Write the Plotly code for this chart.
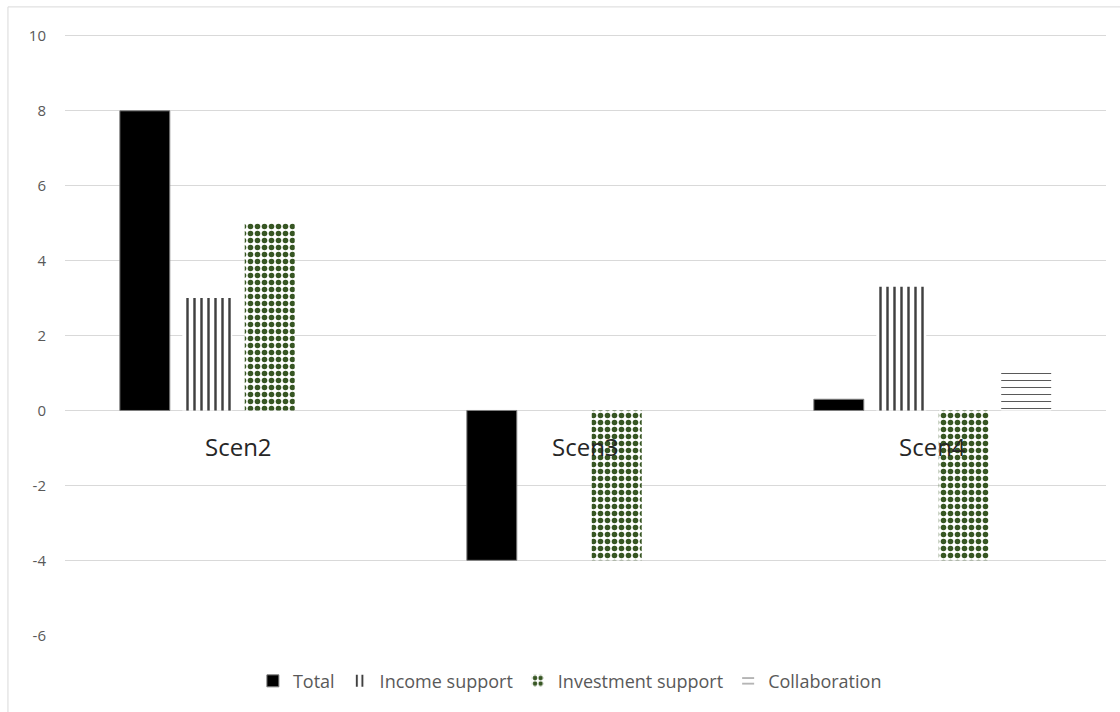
import plotly.graph_objects as go

categories = ["Scen2", "Scen3", "Scen4"]
total = [8.0, -4.0, 0.3]
income_support = [3.0, 0.0, 3.3]
investment_support = [5.0, -4.0, -4.0]
collaboration = [0.0, 0.0, 1.0]
y_ticks = [-6, -4, -2, 0, 2, 4, 6, 8, 10]
y_tick_labels = ["-6", "-4", "-2", "0", "2", "4", "6", "8", "10"]

FONT = "Open Sans"
fig = go.Figure()
fig.add_trace(go.Bar(name="Total", x=categories, y=total,
                     marker=dict(color="#000000", line=dict(color="#7f7f7f", width=1))))
fig.add_trace(go.Bar(name="Income support", x=categories, y=income_support,
                     marker=dict(color="#ffffff", line=dict(width=0),
                                 pattern=dict(shape="|", fgcolor="#404040", bgcolor="#ffffff",
                                              fgopacity=1, size=7, solidity=0.35, fillmode="replace"))))
fig.add_trace(go.Bar(name="Investment support", x=categories, y=investment_support,
                     marker=dict(color="#ffffff", line=dict(width=0),
                                 pattern=dict(shape=".", fgcolor="#375623", bgcolor="#ffffff",
                                              fgopacity=1, size=7, solidity=0.5, fillmode="replace"))))
fig.add_trace(go.Bar(name="Collaboration", x=categories, y=collaboration,
                     marker=dict(color="#ffffff", line=dict(width=0),
                                 pattern=dict(shape="-", fgcolor="#595959", bgcolor="#ffffff",
                                              fgopacity=1, size=7, solidity=0.15, fillmode="replace"))))

for c in categories:
    fig.add_annotation(x=c, y=0, xref="x", yref="y", text=c, showarrow=False,
                       yshift=-36, font=dict(family=FONT, size=24, color="#262626"))

fig.add_shape(type="rect", xref="paper", yref="paper",
              x0=-0.0548, x1=1.05, y0=-0.2, y1=1.045,
              line=dict(color="#d9d9d9", width=1), fillcolor="rgba(0,0,0,0)", layer="below")

fig.update_layout(
    width=1120, height=712,
    margin=dict(l=65, r=14, t=34, b=74),
    paper_bgcolor="#ffffff", plot_bgcolor="#ffffff",
    barmode="group", bargap=0.28, bargroupgap=0.2,
    font=dict(family=FONT, color="#595959"),
    showlegend=True,
    legend=dict(orientation="h", x=0.485, xanchor="center", y=-0.075, yanchor="middle",
                font=dict(family=FONT, size=18, color="#595959"), itemwidth=30),
    xaxis=dict(showticklabels=False, showgrid=False, zeroline=False, showline=False, ticks=""),
    yaxis=dict(range=[-6.02, 10.05], tickvals=y_ticks, ticktext=y_tick_labels,
               showgrid=True, gridcolor="#d9d9d9", gridwidth=1,
               zeroline=True, zerolinecolor="#d9d9d9", zerolinewidth=1, showline=False,
               ticks="", ticklabelstandoff=18,
               tickfont=dict(family=FONT, size=15, color="#595959")),
)

fig.write_html("out.html")
